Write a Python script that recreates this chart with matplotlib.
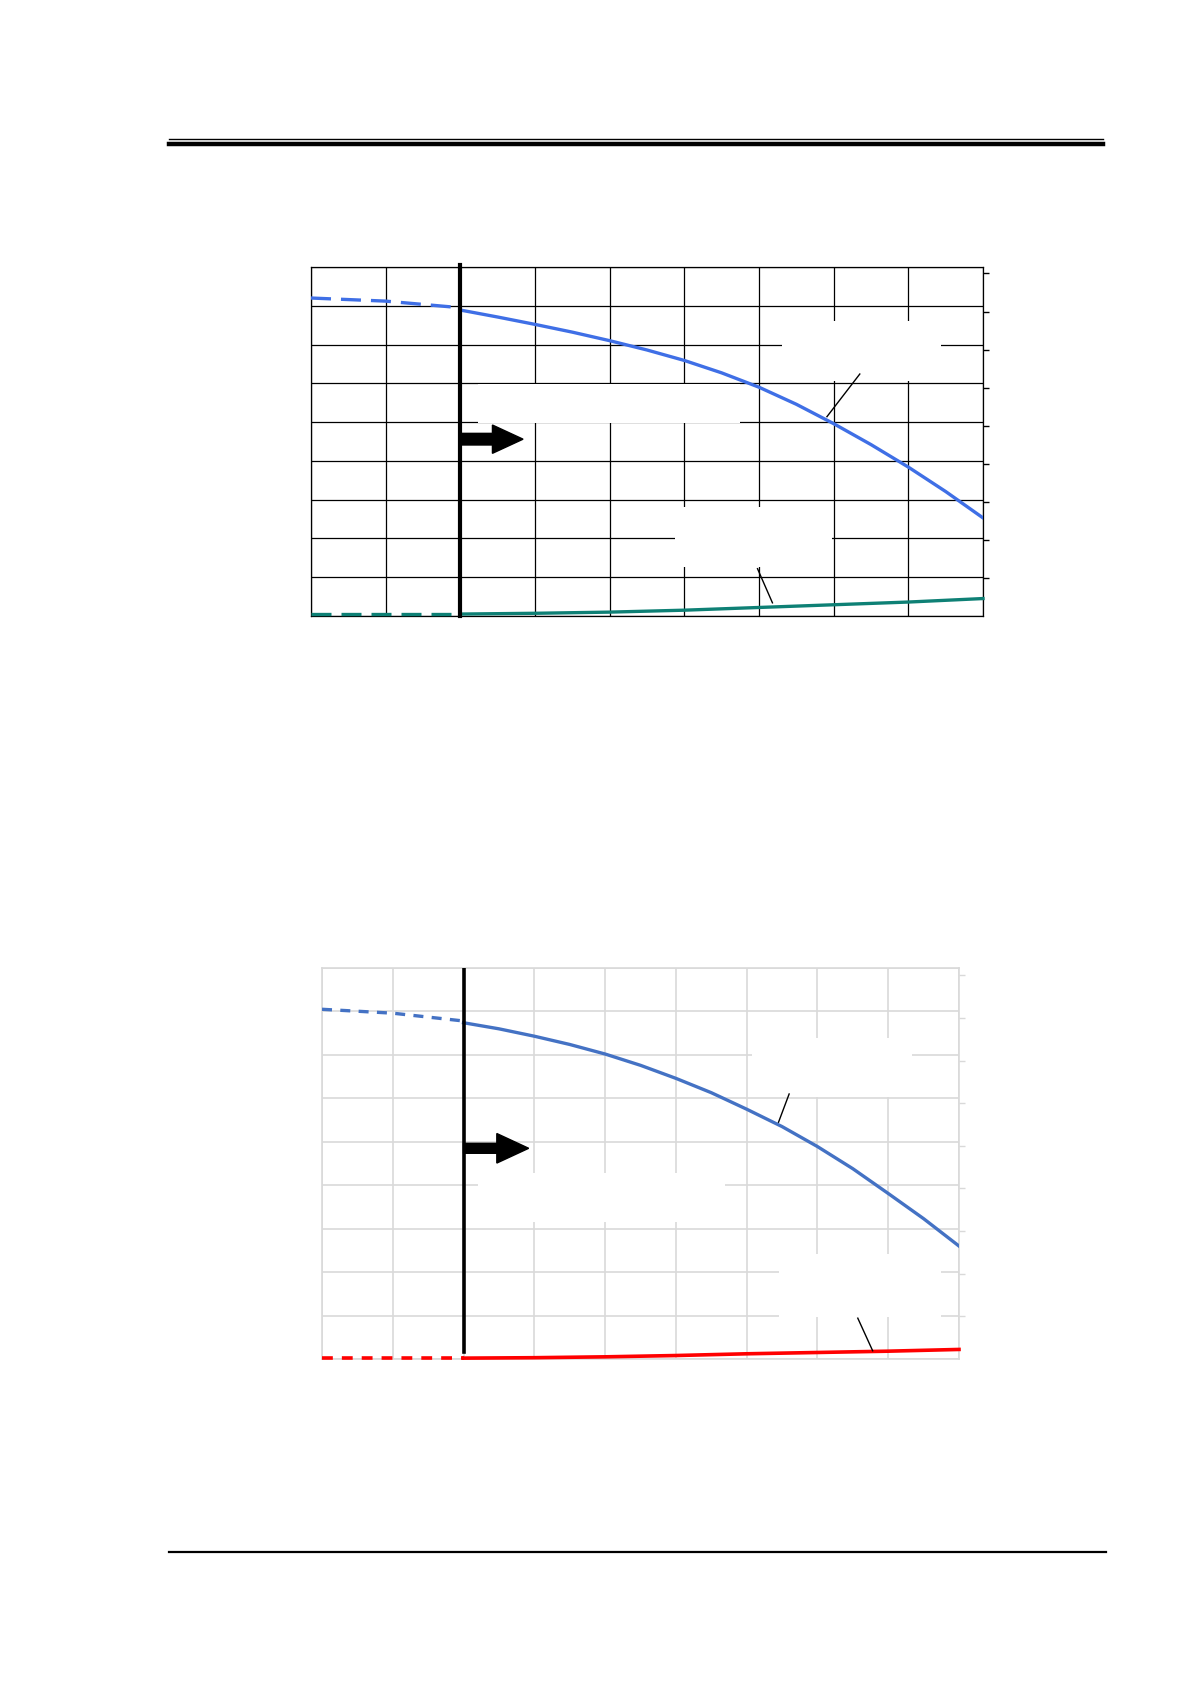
import numpy as np
import matplotlib
matplotlib.use("Agg")
import matplotlib.pyplot as plt
from matplotlib.patches import Rectangle, FancyArrow

# dados (eixo x e y em unidades da grade 0-9)
x_hist = [0, 1, 2]
x_proj = [2, 2.5, 3, 3.5, 4, 4.5, 5, 5.5, 6, 6.5, 7, 7.5, 8, 8.5, 9]
x_base = [2, 3, 4, 5, 6, 7, 8, 9]

# grafico de cima
azul1_hist = [8.20, 8.12, 7.95]
azul1_proj = [7.89, 7.71, 7.52, 7.32, 7.10, 6.86, 6.59, 6.27, 5.90,
              5.46, 4.96, 4.42, 3.84, 3.21, 2.53]
verde_hist = [0.05, 0.05, 0.05]
verde_proj = [0.05, 0.07, 0.10, 0.15, 0.22, 0.29, 0.36, 0.45]

# grafico de baixo
azul2_hist = [8.05, 7.96, 7.78]
azul2_proj = [7.74, 7.60, 7.43, 7.24, 7.02, 6.76, 6.46, 6.13, 5.75,
              5.35, 4.89, 4.38, 3.81, 3.23, 2.60]
vermelho_hist = [0.02, 0.02, 0.02]
vermelho_proj = [0.02, 0.03, 0.05, 0.08, 0.12, 0.15, 0.18, 0.22]

W, H = 1191, 1684
fig = plt.figure(figsize=(W / 100, H / 100), dpi=100)


def caixa(px_l, px_t, px_r, px_b):
    # converte pixels da pagina para coordenadas da figura
    return [px_l / W, 1 - px_b / H, (px_r - px_l) / W, (px_b - px_t) / H]


def prepara_eixo(ax, cor_grade, lw_grade, cor_borda):
    ax.set_xlim(0, 9)
    ax.set_ylim(0, 9)
    ax.set_xticks(range(10))
    ax.set_yticks(range(10))
    ax.set_xticklabels([])
    ax.set_yticklabels([])
    ax.tick_params(length=0)
    ax.set_axisbelow(True)
    ax.grid(True, color=cor_grade, linewidth=lw_grade)
    for s in ax.spines.values():
        s.set_color(cor_borda)
        s.set_linewidth(lw_grade)
    # eixo secundario so com marcas na direita
    ax2 = ax.twinx()
    ax2.set_ylim(0, 9.17)
    ax2.set_yticks(range(1, 10))
    ax2.set_yticklabels([])
    ax2.tick_params(direction="out", length=4, width=1, color=cor_borda)
    for s in ax2.spines.values():
        s.set_visible(False)


def tampa(ax, x0, y0, x1, y1):
    # caixas brancas dos rotulos
    ax.add_patch(Rectangle((x0, y0), x1 - x0, y1 - y0, facecolor="white",
                           edgecolor="none", zorder=1))


# ---- linhas da pagina ----
fig.add_artist(plt.Line2D([169 / W, 1103 / W], [1 - 139 / H] * 2, color="black", lw=1.0))
fig.add_artist(plt.Line2D([169 / W, 1103 / W], [1 - 144 / H] * 2, color="black", lw=3.2))
fig.add_artist(plt.Line2D([169 / W, 1106 / W], [1 - 1552 / H] * 2, color="black", lw=1.6))

# ---- grafico de cima ----
ax = fig.add_axes(caixa(311, 267, 983, 616))
prepara_eixo(ax, "black", 0.9, "black")
tampa(ax, 6.31, 6.05, 8.44, 7.6)
tampa(ax, 2.24, 4.97, 5.74, 5.97)
tampa(ax, 4.87, 1.27, 6.98, 2.82)

azul1 = "#3F6FE6"
verde = "#0E8075"
ax.plot(x_hist, azul1_hist, color=azul1, lw=2.4, dashes=(6, 3), zorder=3)
ax.plot(x_proj, azul1_proj, color=azul1, lw=2.4, zorder=3)
ax.plot(x_hist, verde_hist, color=verde, lw=2.4, dashes=(6, 3), zorder=3, clip_on=False)
ax.plot(x_base, verde_proj, color=verde, lw=2.4, zorder=3, clip_on=False)

ax.plot([2, 2], [0, 9.05], color="black", lw=3.0, zorder=4, clip_on=False)
ax.add_patch(FancyArrow(2, 4.56, 0.84, 0, width=0.3, head_width=0.73,
                        head_length=0.41, length_includes_head=True,
                        color="black", zorder=4))
ax.plot([7.35, 6.91], [6.24, 5.14], color="black", lw=1.0, zorder=4)
ax.plot([5.98, 6.18], [1.22, 0.34], color="black", lw=1.0, zorder=4)

# ---- grafico de baixo ----
bx = fig.add_axes(caixa(322, 968, 959, 1359))
prepara_eixo(bx, "#D9D9D9", 1.2, "#D9D9D9")
tampa(bx, 6.07, 6.02, 8.34, 7.4)
tampa(bx, 2.21, 3.15, 5.70, 4.27)
tampa(bx, 6.45, 0.97, 8.74, 2.42)

azul2 = "#4472C4"
vermelho = "#FF0000"
bx.plot(x_hist, azul2_hist, color=azul2, lw=2.4, dashes=(3, 2.5), zorder=3)
bx.plot(x_proj, azul2_proj, color=azul2, lw=2.4, zorder=3)
bx.plot(x_hist, vermelho_hist, color=vermelho, lw=2.6, dashes=(3, 2.5), zorder=3, clip_on=False)
bx.plot(x_base, vermelho_proj, color=vermelho, lw=2.6, zorder=3, clip_on=False)

bx.plot([2, 2], [0.15, 9.0], color="black", lw=2.6, zorder=4)
bx.add_patch(FancyArrow(2, 4.85, 0.92, 0, width=0.23, head_width=0.68,
                        head_length=0.45, length_includes_head=True,
                        color="black", zorder=4))
bx.plot([6.6, 6.45], [6.1, 5.45], color="black", lw=1.0, zorder=4)
bx.plot([7.57, 7.78], [0.94, 0.19], color="black", lw=1.0, zorder=4)

fig.savefig("out.png", dpi=100, facecolor="white")
